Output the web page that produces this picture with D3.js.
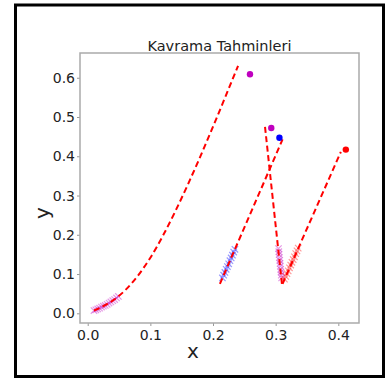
<!DOCTYPE html>
<html><head><meta charset="utf-8">
<script src="https://cdn.jsdelivr.net/npm/d3@7"></script>
<style>body{margin:0;background:#fff}text{font-family:"DejaVu Sans",sans-serif}</style>
</head><body><svg id="c" width="385" height="378"></svg>
<script>
// Dashed trajectory curves
const curve1X = [0.010,0.02,0.03,0.04,0.05,0.06,0.07,0.08,0.09,0.10,0.12,0.14,0.16,0.18,0.20,0.22,0.24];
const curve1Y = [0.007,0.014,0.0225,0.0325,0.0445,0.059,0.076,0.0955,0.1175,0.1415,0.1975,0.2605,0.3285,0.4005,0.4755,0.5525,0.6305];
const curve2X = [0.211,0.311];
const curve2Y = [0.075,0.443];
const curve3X = [0.283,0.310];
const curve3Y = [0.475,0.075];
const curve4X = [0.311,0.404];
const curve4Y = [0.075,0.411];
// Observed grasp markers (x)
const mark1X = [0.010,0.013,0.016,0.019,0.022,0.025,0.028,0.031,0.034,0.037,0.040,0.043,0.046,0.049];
const mark1Y = [0.007,0.009,0.011,0.013,0.016,0.018,0.020,0.023,0.026,0.029,0.032,0.035,0.039,0.043];
const mark2X = [0.215,0.217,0.219,0.221,0.223,0.225,0.227,0.229,0.231,0.233,0.235];
const mark2Y = [0.090,0.097,0.104,0.112,0.119,0.126,0.134,0.141,0.148,0.156,0.163];
const mark3X = [0.3095,0.309,0.3085,0.308,0.3075,0.307,0.3065,0.306,0.3055,0.305,0.3045];
const mark3Y = [0.090,0.097,0.105,0.112,0.120,0.127,0.135,0.142,0.150,0.157,0.165];
const mark4X = [0.314,0.316,0.318,0.320,0.322,0.324,0.326,0.328,0.330,0.332,0.334,0.336];
const mark4Y = [0.087,0.094,0.101,0.108,0.116,0.123,0.130,0.137,0.144,0.152,0.159,0.166];
// Target points
const dotX = [0.259,0.293,0.306,0.412];
const dotY = [0.609,0.472,0.447,0.417];
const dotColors = ["#bf00bf","#bf00bf","#0000ff","#ff0000"];
const markColors = ["#bf00bf","#0000ff","#bf00bf","#ff0000"];
const xTicks = [0.0,0.1,0.2,0.3,0.4];
const yTicks = [0.0,0.1,0.2,0.3,0.4,0.5,0.6];
const title = "Kavrama Tahminleri";

const svg = d3.select("#c");
svg.append("rect").attr("x",15.5).attr("y",5).attr("width",368).attr("height",371.5)
  .attr("fill","none").attr("stroke","#000").attr("stroke-width",3);

const L=80,T=53,R=359,B=323;
const x = d3.scaleLinear().domain([-0.0123,0.433]).range([L,R]);
const y = d3.scaleLinear().domain([-0.0247,0.663]).range([B,T]);

const gx = svg.append("g").attr("transform",`translate(0,${B})`)
  .call(d3.axisBottom(x).tickValues(xTicks).tickFormat(d3.format(".1f")).tickSize(3).tickPadding(4));
const gy = svg.append("g").attr("transform",`translate(${L},0)`)
  .call(d3.axisLeft(y).tickValues(yTicks).tickFormat(d3.format(".1f")).tickSize(3).tickPadding(2));
[gx,gy].forEach(g=>{
  g.select(".domain").remove();
  g.selectAll("line").attr("stroke","#999");
  g.selectAll("text").attr("font-size",14).attr("fill","#222").style("font-family","DejaVu Sans");
});
svg.append("rect").attr("x",L).attr("y",T).attr("width",R-L).attr("height",B-T)
  .attr("fill","none").attr("stroke","#aaa").attr("stroke-width",1.5);

svg.append("text").attr("x",219.5).attr("y",50.5).attr("text-anchor","middle")
  .attr("font-size",14.5).attr("fill","#222").text(title);
svg.append("text").attr("x",193).attr("y",358).attr("text-anchor","middle")
  .attr("font-size",20).attr("fill","#222").text("x");
svg.append("text").attr("transform","translate(49,213) rotate(-90)").attr("text-anchor","middle")
  .attr("font-size",20).attr("fill","#222").text("y");

const marks = [[mark1X,mark1Y],[mark2X,mark2Y],[mark3X,mark3Y],[mark4X,mark4Y]];
marks.forEach(([mx,my],i)=>{
  const g = svg.append("g");
  mx.forEach((v,j)=>{
    const cx=x(v), cy=y(my[j]), s=3.2;
    g.append("path").attr("d",`M${cx-s},${cy-s}L${cx+s},${cy+s}M${cx-s},${cy+s}L${cx+s},${cy-s}`)
      .attr("stroke",markColors[i]).attr("stroke-width",1.2).attr("stroke-opacity",0.4).attr("fill","none");
  });
});

const curves = [[curve1X,curve1Y],[curve2X,curve2Y],[curve3X,curve3Y],[curve4X,curve4Y]];
curves.forEach(([cx,cy])=>{
  const pts = cx.map((v,j)=>[v,cy[j]]);
  svg.append("path").attr("d",d3.line().x(d=>x(d[0])).y(d=>y(d[1])).curve(cx.length>2?d3.curveMonotoneX:d3.curveLinear)(pts))
    .attr("fill","none").attr("stroke","#ff0000").attr("stroke-width",2).attr("stroke-dasharray","6,3.5");
});

svg.selectAll("circle.d").data(dotX).enter().append("circle")
  .attr("cx",d=>x(d)).attr("cy",(d,i)=>y(dotY[i])).attr("r",3.2).attr("fill",(d,i)=>dotColors[i]);
</script></body></html>
